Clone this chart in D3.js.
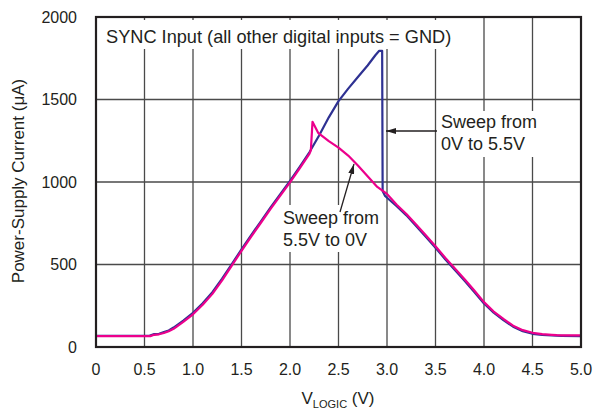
<!DOCTYPE html>
<html><head><meta charset="utf-8">
<script src="https://cdn.jsdelivr.net/npm/d3@7"></script>
<style>body{margin:0;background:#fff;} svg{display:block;font-family:"Liberation Sans",Arial,sans-serif;}</style>
</head><body>
<svg id="c" width="593" height="413"></svg>
<script>
// ---- data ----
const xTicks = [0, 0.5, 1.0, 1.5, 2.0, 2.5, 3.0, 3.5, 4.0, 4.5, 5.0];
const xTickLabels = ["0","0.5","1.0","1.5","2.0","2.5","3.0","3.5","4.0","4.5","5.0"];
const yTicks = [0, 500, 1000, 1500, 2000];
const yTickLabels = ["0","500","1000","1500","2000"];

// Sweep from 0V to 5.5V (blue)
const upV = [0, 0.55, 0.6, 0.65, 0.7, 0.75, 0.8, 0.9, 1.0, 1.1, 1.2, 1.3, 1.4, 1.5, 1.6, 1.7, 1.8, 1.9, 2.0, 2.1, 2.2, 2.3, 2.4, 2.5, 2.6, 2.7, 2.8, 2.88, 2.92, 2.95, 2.955, 2.98, 3.1, 3.2, 3.3, 3.4, 3.5, 3.6, 3.7, 3.8, 3.9, 4.0, 4.1, 4.2, 4.3, 4.4, 4.5, 4.6, 4.7, 4.8, 5.0];
const upI = [68, 68, 78, 80, 90, 100, 118, 160, 207, 265, 332, 414, 502, 592, 678, 762, 846, 926, 1007, 1092, 1180, 1282, 1392, 1490, 1566, 1636, 1706, 1768, 1795, 1795, 945, 915, 853, 798, 733, 668, 602, 532, 467, 402, 333, 264, 208, 163, 123, 96, 80, 73, 70, 68, 66];

// Sweep from 5.5V to 0V (magenta)
const downV = [0, 0.56, 0.6, 0.65, 0.7, 0.75, 0.8, 0.9, 1.0, 1.1, 1.2, 1.3, 1.4, 1.5, 1.6, 1.7, 1.8, 1.9, 2.0, 2.1, 2.2, 2.215, 2.232, 2.29, 2.4, 2.5, 2.6, 2.7, 2.8, 2.9, 3.0, 3.1, 3.2, 3.3, 3.4, 3.5, 3.6, 3.7, 3.8, 3.9, 4.0, 4.1, 4.2, 4.3, 4.4, 4.5, 4.6, 4.7, 4.75, 4.8, 5.0];
const downI = [66, 66, 74, 77, 85, 96, 110, 152, 198, 256, 322, 404, 493, 583, 669, 753, 837, 917, 998, 1083, 1170, 1192, 1365, 1298, 1248, 1208, 1160, 1100, 1035, 970, 928, 862, 806, 742, 677, 611, 541, 476, 411, 342, 272, 215, 170, 129, 102, 86, 78, 74, 72, 71, 70];

const svg = d3.select("#c");
const x = d3.scaleLinear().domain([0, 5]).range([96, 581]);
const y = d3.scaleLinear().domain([0, 2000]).range([347, 17]);

// grid
const g = svg.append("g");
g.selectAll("line.v").data(xTicks.slice(1, -1)).enter().append("line")
  .attr("x1", d => x(d)).attr("x2", d => x(d)).attr("y1", y(2000)).attr("y2", y(0))
  .attr("stroke", "#4a4a4a").attr("stroke-width", 1.3);
g.selectAll("line.h").data(yTicks.slice(1, -1)).enter().append("line")
  .attr("x1", x(0)).attr("x2", x(5)).attr("y1", d => y(d)).attr("y2", d => y(d))
  .attr("stroke", "#4a4a4a").attr("stroke-width", 1.3);

// white label backgrounds
svg.append("rect").attr("x", 98).attr("y", 20).attr("width", 374).attr("height", 29).attr("fill", "#fff");
svg.append("rect").attr("x", 437).attr("y", 111).attr("width", 104).attr("height", 46).attr("fill", "#fff");
svg.append("rect").attr("x", 281).attr("y", 205).attr("width", 104).attr("height", 47).attr("fill", "#fff");

// curves
const line = d3.line().x(d => x(d[0])).y(d => y(d[1]));
svg.append("path").datum(upV.map((v, i) => [v, upI[i]])).attr("d", line)
  .attr("fill", "none").attr("stroke", "#2e3192").attr("stroke-width", 2.2).attr("stroke-linejoin", "round");
svg.append("path").datum(downV.map((v, i) => [v, downI[i]])).attr("d", line)
  .attr("fill", "none").attr("stroke", "#ec008c").attr("stroke-width", 2.2).attr("stroke-linejoin", "round");

// frame
svg.append("rect").attr("x", x(0)).attr("y", y(2000)).attr("width", x(5) - x(0)).attr("height", y(0) - y(2000))
  .attr("fill", "none").attr("stroke", "#231f20").attr("stroke-width", 2.2);

// tick labels
svg.append("g").selectAll("text").data(xTicks).enter().append("text")
  .attr("x", d => x(d)).attr("y", 375).attr("text-anchor", "middle")
  .attr("font-size", 16).attr("fill", "#231f20").text((d, i) => xTickLabels[i]);
svg.append("g").selectAll("text").data(yTicks).enter().append("text")
  .attr("x", 77).attr("y", d => y(d)).attr("dy", "0.36em").attr("text-anchor", "end")
  .attr("font-size", 16).attr("fill", "#231f20").text((d, i) => yTickLabels[i]);

// axis titles
const xt = svg.append("text").attr("x", 338).attr("y", 404).attr("text-anchor", "middle")
  .attr("font-size", 17).attr("fill", "#231f20");
xt.append("tspan").text("V");
xt.append("tspan").attr("font-size", 11).attr("dy", 4).text("LOGIC");
xt.append("tspan").attr("dy", -4).text(" (V)");

svg.append("text").attr("transform", "translate(24,181) rotate(-90)").attr("text-anchor", "middle")
  .attr("font-size", 17).attr("fill", "#231f20").text("Power-Supply Current (μA)");

// annotations
svg.append("text").attr("x", 106).attr("y", 42.5).attr("font-size", 18.2).attr("fill", "#231f20")
  .text("SYNC Input (all other digital inputs = GND)");

const ann = [["Sweep from", 441, 127.5], ["0V to 5.5V", 441, 149.5], ["Sweep from", 283, 223.5], ["5.5V to 0V", 283, 245.5]];
svg.append("g").selectAll("text").data(ann).enter().append("text")
  .attr("x", d => d[1]).attr("y", d => d[2]).attr("font-size", 18).attr("fill", "#231f20").text(d => d[0]);

svg.append("defs").append("marker").attr("id", "ah").attr("viewBox", "0 0 10 6")
  .attr("refX", 10).attr("refY", 3).attr("markerWidth", 10).attr("markerHeight", 6)
  .attr("markerUnits", "userSpaceOnUse").attr("orient", "auto")
  .append("path").attr("d", "M0,0 L10,3 L0,6 Z").attr("fill", "#231f20");
svg.append("line").attr("x1", 437).attr("y1", 131).attr("x2", 386).attr("y2", 131)
  .attr("stroke", "#231f20").attr("stroke-width", 1.3).attr("marker-end", "url(#ah)");
svg.append("line").attr("x1", 340).attr("y1", 212).attr("x2", 354).attr("y2", 164)
  .attr("stroke", "#231f20").attr("stroke-width", 1.3).attr("marker-end", "url(#ah)");
</script>
</body></html>
